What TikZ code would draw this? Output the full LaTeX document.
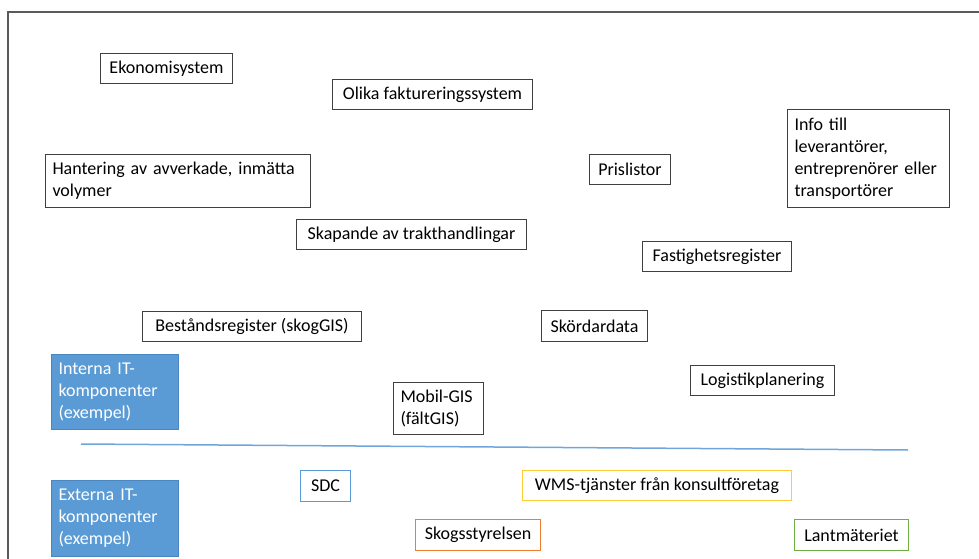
\documentclass[tikz,border=0pt]{standalone}
\usepackage{fontspec}
\setmainfont{Carlito}
\definecolor{frame}{HTML}{5A5A5A}
\definecolor{boxline}{HTML}{404040}
\definecolor{accblue}{HTML}{5B9BD5}
\definecolor{accblueline}{HTML}{4A86C0}
\definecolor{accgold}{HTML}{FFC000}
\definecolor{accorange}{HTML}{ED7D31}
\definecolor{accgreen}{HTML}{70AD47}
\definecolor{sepline}{HTML}{6FA6DC}
\begin{document}
\begin{tikzpicture}[x=1pt,y=-1pt,
  every node/.style={font=\fontsize{18}{22}\selectfont},
  bx/.style={draw=boxline, line width=1pt, inner xsep=7pt, inner ysep=0pt,
    anchor=north west, align=left, text=black},
  cat/.style={bx, draw=accblueline, fill=accblue, text=white},
]
\useasboundingbox (0,0) rectangle (979,559);
% outer frame (top and left edges only visible)
\coordinate (fbl) at (8,559);
\coordinate (ftl) at (8,12);
\coordinate (ftr) at (979,12);
\draw[frame, line width=1.2pt] (fbl) -- (ftl) -- (ftr);

\node[bx, minimum width=132, minimum height=30] (eko) at (100,53) {Ekonomisystem};
\node[bx, minimum width=200, minimum height=30] (olika) at (332,79) {Olika faktureringssystem};
\node[bx, minimum width=265, minimum height=53, text width=251] (hant) at (45,154) {Hantering av avverkade, inmätta\\volymer};
\node[bx, minimum width=81, minimum height=30] (pris) at (589,154) {Prislistor};
\node[bx, minimum width=162, minimum height=98, text width=148] (info) at (787,109) {Info till\\leverantörer,\\entreprenörer eller\\transportörer};
\node[bx, minimum width=230, minimum height=30] (skap) at (296,219) {Skapande av trakthandlingar};
\node[bx, minimum width=149, minimum height=30] (fast) at (642,241) {Fastighetsregister};
\node[bx, minimum width=219, minimum height=30] (best) at (142,311) {Beståndsregister (skogGIS)};
\node[bx, minimum width=106, minimum height=31] (skord) at (541,310) {Skördardata};
\node[cat, minimum width=127, minimum height=75, text width=113] (intern) at (51,354) {Interna IT-\\komponenter\\(exempel)};
\node[bx, minimum width=90, minimum height=52, text width=76] (mobil) at (393,382) {Mobil-GIS\\(fältGIS)};
\node[bx, minimum width=144, minimum height=30] (logi) at (690,365) {Logistikplanering};

\coordinate (sepL) at (81,444);
\coordinate (sepR) at (908,450);
\draw[sepline, line width=1.5pt] (sepL) -- (sepR);

\node[cat, minimum width=127, minimum height=76, text width=113] (extern) at (51,480) {Externa IT-\\komponenter\\(exempel)};
\node[bx, draw=accblue, minimum width=50, minimum height=31] (sdc) at (300,470) {SDC};
\node[bx, draw=accgold!80, minimum width=269, minimum height=30] (wms) at (522,470) {WMS-tjänster från konsultföretag};
\node[bx, draw=accorange, minimum width=125, minimum height=31] (skog) at (415,519) {Skogsstyrelsen};
\node[bx, draw=accgreen, minimum width=114, minimum height=31] (lant) at (794,519) {Lantmäteriet};
\end{tikzpicture}
\end{document}
